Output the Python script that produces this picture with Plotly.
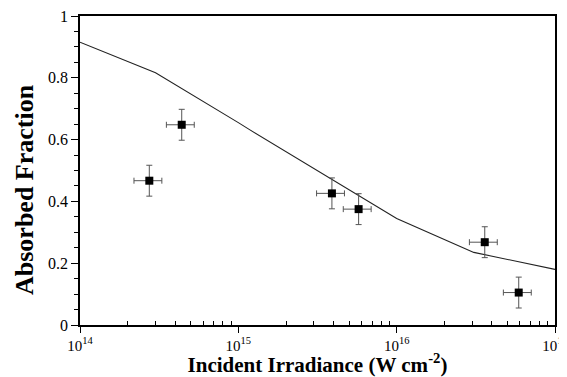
import plotly.graph_objects as go

# Measured data points
irradiance = [2.74e14, 4.39e14, 3.9e15, 5.75e15, 3.6e16, 5.9e16]
absorbed = [0.467, 0.648, 0.426, 0.375, 0.268, 0.105]
absorbed_err = [0.05, 0.05, 0.05, 0.05, 0.05, 0.05]
irradiance_err_pct = 20

# Model curve
model_x = [1e14, 3.0e14, 1.0e15, 1.17e15, 1.0e16, 3.07e16, 1e17]
model_y = [0.915, 0.816, 0.655, 0.633, 0.345, 0.235, 0.18]

# Tick labels
xtick_vals = [1e14, 1e15, 1e16, 1e17]
xtick_text = ["10<sup>14</sup>", "10<sup>15</sup>", "10<sup>16</sup>", "10<sup>17</sup>"]
minor_x = [m * d for d in [1e14, 1e15, 1e16] for m in range(2, 10)]

fig = go.Figure()
fig.add_trace(go.Scatter(
    x=model_x, y=model_y, mode="lines",
    line=dict(color="#222222", width=1.1),
    showlegend=False, hoverinfo="skip"))
fig.add_trace(go.Scatter(
    x=irradiance, y=absorbed, mode="markers",
    marker=dict(symbol="square", size=8, color="black"),
    error_y=dict(type="data", array=absorbed_err, color="#555555", thickness=1, width=3),
    error_x=dict(type="percent", value=irradiance_err_pct, color="#555555", thickness=1, width=3),
    showlegend=False))

font_family = "Liberation Serif"
# page body has an 8px margin, so the figure is sized to fit the visible window
fig.update_layout(
    width=559, height=369,
    margin=dict(l=72, r=12, t=8, b=52, autoexpand=False),
    paper_bgcolor="white", plot_bgcolor="white",
    font=dict(family=font_family, color="black", size=15),
    annotations=[dict(
        text="<b>Absorbed Fraction</b>", textangle=-90,
        xref="paper", yref="paper", x=-0.118, y=0.44,
        xanchor="center", yanchor="middle", showarrow=False,
        font=dict(size=26, family=font_family, color="black"))],
)
fig.update_xaxes(
    type="log", range=[14, 17], automargin=False,
    tickvals=xtick_vals, ticktext=xtick_text, ticklabeloverflow="allow",
    ticks="outside", ticklen=6, tickwidth=1, tickcolor="black",
    minor=dict(tickvals=minor_x, ticks="inside", ticklen=4, tickcolor="black", tickwidth=1, showgrid=False),
    showline=True, linecolor="black", linewidth=1.5, mirror=True,
    showgrid=False, zeroline=False,
    tickfont=dict(size=15),
    title=dict(text="<b>Incident Irradiance (W cm<sup>-2</sup>)</b>", font=dict(size=21), standoff=4),
)
fig.update_yaxes(
    range=[0, 1], dtick=0.2, automargin=False, ticklabeloverflow="allow",
    ticks="outside", ticklen=7, tickwidth=1, tickcolor="black",
    minor=dict(dtick=0.05, ticks="outside", ticklen=4, tickcolor="black", tickwidth=1, showgrid=False),
    showline=True, linecolor="black", linewidth=1.5, mirror=True,
    showgrid=False, zeroline=False,
    tickfont=dict(size=16),
)
fig.write_html("out.html")
